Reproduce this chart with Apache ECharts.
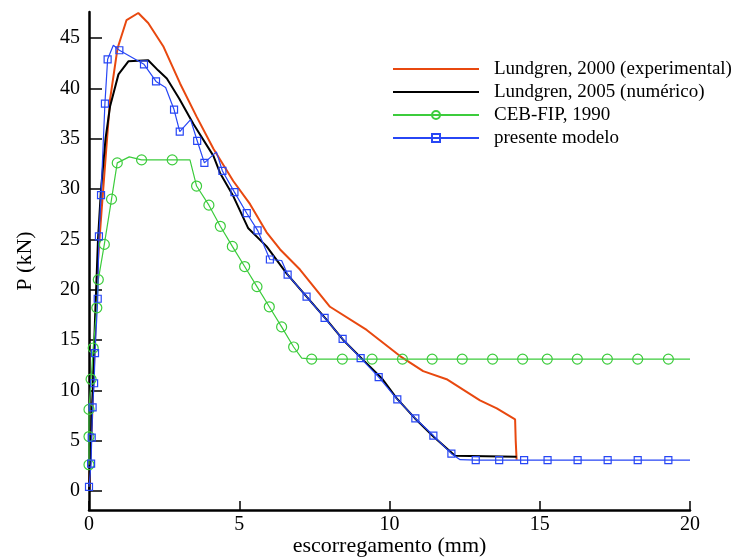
<!DOCTYPE html>
<html>
<head>
<meta charset="utf-8">
<script src="https://cdn.jsdelivr.net/npm/echarts@6/dist/echarts.min.js"></script>
<style>html,body{margin:0;padding:0;background:#fff}#c{width:736px;height:559px}</style>
</head>
<body>
<div id="c"></div>
<script>
var seriesNames = ['Lundgren, 2000 (experimental)', 'Lundgren, 2005 (numérico)', 'CEB-FIP, 1990', 'presente modelo'];
var xTicks = [0, 5, 10, 15, 20];
var yTicks = [0, 5, 10, 15, 20, 25, 30, 35, 40, 45];

var expX = [0, 0.1, 0.2, 0.3, 0.42, 0.55, 0.7, 0.95, 1.25, 1.64, 1.97, 2.47, 3.03, 3.58, 4.14, 4.8, 5.36, 5.91, 6.36, 7.02, 8.02, 9.24, 10.35, 11.12, 11.9, 13.01, 13.57, 14.18, 14.2, 14.23];
var expY = [0, 7, 15, 23, 27.9, 33, 38.9, 44, 46.8, 47.5, 46.5, 44.2, 40.5, 37.2, 34.0, 30.8, 28.5, 25.7, 24.0, 22.0, 18.3, 16.0, 13.4, 11.9, 11.1, 9.0, 8.2, 7.1, 5.0, 3.1];

var numX = [0, 0.1, 0.2, 0.3, 0.4, 0.55, 0.7, 0.98, 1.31, 1.97, 2.3, 2.59, 3.0, 3.47, 4.14, 4.36, 4.8, 5.3, 5.91, 6.58, 7.24, 7.91, 8.46, 9.13, 9.74, 10.24, 10.85, 11.46, 12.18, 14.23];
var numY = [0, 8, 17, 25, 30, 35, 38.2, 41.4, 42.7, 42.8, 41.8, 41.0, 39.0, 36.5, 33.3, 31.6, 29.3, 26.1, 24.3, 21.6, 19.3, 17.0, 15.0, 13.0, 11.2, 9.2, 7.2, 5.4, 3.5, 3.4];

var cebX = [0, 0, 0, 0.07, 0.14, 0.26, 0.31, 0.51, 0.75, 0.94, 1.34, 1.75, 2.77, 3.36, 3.58, 3.99, 4.37, 4.77, 5.18, 5.59, 6.0, 6.41, 6.81, 7.08, 7.41, 8.43, 9.42, 10.43, 11.42, 12.42, 13.43, 14.43, 15.25, 16.25, 17.25, 18.26, 19.28, 20];
var cebY = [2.6, 5.4, 8.1, 11.1, 14.2, 18.2, 21.0, 24.5, 29.0, 32.6, 33.2, 32.9, 32.9, 32.9, 30.3, 28.4, 26.3, 24.3, 22.3, 20.3, 18.3, 16.3, 14.3, 13.2, 13.1, 13.1, 13.1, 13.1, 13.1, 13.1, 13.1, 13.1, 13.1, 13.1, 13.1, 13.1, 13.1, 13.1];
var cebNoMark = [10, 13, 23, 37];

var modX = [0, 0.07, 0.09, 0.12, 0.17, 0.2, 0.29, 0.33, 0.40, 0.53, 0.62, 0.81, 1.01, 1.83, 2.23, 2.55, 2.83, 3.02, 3.38, 3.60, 3.84, 4.24, 4.44, 4.84, 5.25, 5.61, 6.02, 6.41, 6.61, 7.24, 7.84, 8.44, 9.04, 9.64, 10.26, 10.86, 11.46, 12.06, 12.35, 12.87, 13.65, 14.48, 15.26, 16.26, 17.26, 18.26, 19.28, 20];
var modY = [0.4, 2.7, 5.3, 8.3, 10.7, 13.7, 19.1, 25.3, 29.4, 38.5, 42.9, 44.3, 43.8, 42.4, 40.7, 40.1, 37.9, 35.7, 36.9, 34.8, 32.6, 33.7, 31.8, 29.7, 27.6, 25.9, 23.0, 22.9, 21.5, 19.3, 17.2, 15.1, 13.2, 11.3, 9.1, 7.2, 5.5, 3.7, 3.1, 3.05, 3.05, 3.05, 3.05, 3.05, 3.05, 3.05, 3.05, 3.05];
var modNoMark = [11, 15, 18, 21, 27, 38, 47];

function zip(xs, ys, noMark) {
  return xs.map(function (x, i) {
    var item = { value: [x, ys[i]] };
    if (noMark && noMark.indexOf(i) >= 0) item.symbol = 'none';
    return item;
  });
}

var font = 'Liberation Serif';
var hidden = { color: 'transparent', borderColor: 'transparent', borderWidth: 0 };
var chart = echarts.init(document.getElementById('c'));
chart.setOption({
  animation: false,
  backgroundColor: '#fff',
  grid: { left: 89, right: 46, top: 12, bottom: 49, containLabel: false, outerBoundsMode: 'none' },
  legend: {
    left: 392, top: 59, orient: 'vertical', padding: 0,
    itemWidth: 86, itemHeight: 10, itemGap: 3,
    data: [
      { name: seriesNames[0], itemStyle: hidden },
      { name: seriesNames[1], itemStyle: hidden },
      { name: seriesNames[2] },
      { name: seriesNames[3] }
    ],
    textStyle: { fontFamily: font, fontSize: 19, lineHeight: 20, color: '#000', padding: [0, 0, 0, 10] }
  },
  xAxis: {
    type: 'value', min: 0, max: 20, interval: 5,
    name: 'escorregamento (mm)', nameLocation: 'middle', nameGap: 25, nameMoveOverlap: false,
    nameTextStyle: { fontFamily: font, fontSize: 22, color: '#000' },
    axisLine: { onZero: false, lineStyle: { color: '#000', width: 2.5 } },
    axisTick: { inside: true, length: 9, lineStyle: { color: '#000', width: 1.5 } },
    axisLabel: { fontFamily: font, fontSize: 20, color: '#000', margin: 5 },
    splitLine: { show: false }
  },
  yAxis: {
    type: 'value', min: -1.9, max: 47.6,
    name: 'P (kN)', nameLocation: 'middle', nameGap: 53, nameRotate: 90, nameMoveOverlap: false,
    nameTextStyle: { fontFamily: font, fontSize: 22, color: '#000' },
    axisLine: { onZero: false, lineStyle: { color: '#000', width: 2.5 } },
    axisTick: { inside: true, length: 13, customValues: yTicks, lineStyle: { color: '#000', width: 1.5 } },
    axisLabel: { fontFamily: font, fontSize: 20, color: '#000', margin: 9, customValues: yTicks },
    splitLine: { show: false }
  },
  series: [
    { name: seriesNames[0], type: 'line', data: zip(expX, expY), showSymbol: false, symbol: 'none',
      lineStyle: { color: '#e8480f', width: 2 }, itemStyle: { color: '#e8480f' } },
    { name: seriesNames[1], type: 'line', data: zip(numX, numY), showSymbol: false, symbol: 'none',
      lineStyle: { color: '#000', width: 2 }, itemStyle: { color: '#000' } },
    { name: seriesNames[2], type: 'line', data: zip(cebX, cebY, cebNoMark), symbol: 'circle', symbolSize: 10,
      lineStyle: { color: '#3ccc3c', width: 1.2 }, itemStyle: { color: 'transparent', borderColor: '#3ccc3c', borderWidth: 1.2 } },
    { name: seriesNames[3], type: 'line', data: zip(modX, modY, modNoMark), symbol: 'rect', symbolSize: 7,
      lineStyle: { color: '#2746f5', width: 1.2 }, itemStyle: { color: 'transparent', borderColor: '#2746f5', borderWidth: 1.2 } }
  ]
});
</script>
</body>
</html>
